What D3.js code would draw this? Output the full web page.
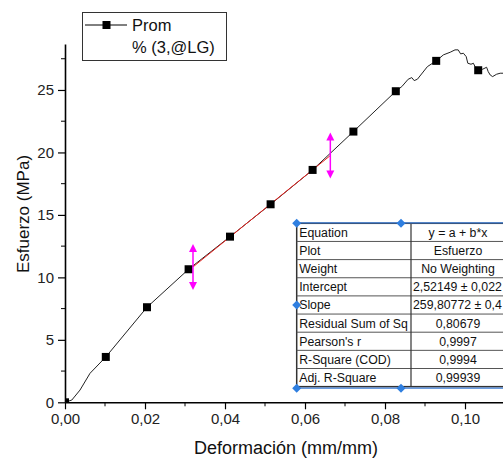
<!DOCTYPE html>
<html>
<head>
<meta charset="utf-8">
<script src="https://cdn.jsdelivr.net/npm/d3@7"></script>
<style>
  body { margin: 0; background: #fff; }
  svg { display: block; font-family: "Liberation Sans", Arial, sans-serif; }
</style>
</head>
<body>
<svg></svg>
<script>
const width = 503;
const height = 458;

// measured curve (strain mm/mm, stress MPa)
const curveStrain = [0, 0.0017, 0.00375, 0.00625, 0.0102, 0.0205, 0.0309, 0.04125, 0.0514, 0.0619, 0.0721, 0.0827,
  0.0842, 0.0858, 0.0867, 0.0873, 0.0881, 0.0906, 0.0928, 0.0946, 0.0963, 0.0975, 0.0983, 0.0989, 0.0996, 0.1003,
  0.1007, 0.1015, 0.1021, 0.1025, 0.1033, 0.1044, 0.1054, 0.1058, 0.1063, 0.1069, 0.1079, 0.1088, 0.1100];
const curveStress = [0, 0.18, 0.98, 2.32, 3.63, 7.61, 10.65, 13.26, 15.85, 18.6, 21.67, 24.9,
  25.27, 25.86, 25.99, 25.75, 25.86, 26.87, 27.33, 27.81, 28.02, 28.21, 28.21, 27.89, 27.94, 27.67,
  27.14, 27.06, 27.14, 26.87, 26.58, 26.66, 26.82, 26.47, 26.2, 26.07, 26.26, 26.34, 26.34];

// symbols shown on the curve
const markerStrain = [0, 0.0102, 0.0205, 0.0309, 0.04125, 0.0514, 0.0619, 0.0721, 0.0827, 0.0928, 0.1033];
const markerStress = [0, 3.63, 7.61, 10.65, 13.26, 15.85, 18.6, 21.67, 24.9, 27.33, 26.58];

// linear fit
const fitIntercept = 2.52149;
const fitSlope = 259.80772;
const fitRange = [0.032, 0.06633];

const xTicks = [0, 0.02, 0.04, 0.06, 0.08, 0.10];
const xMinor = [0.01, 0.03, 0.05, 0.07, 0.09];
const yTicks = [0, 5, 10, 15, 20, 25];
const yMinor = [2.5, 7.5, 12.5, 17.5, 22.5, 27.5];

const tableLabels = ['Equation', 'Plot', 'Weight', 'Intercept', 'Slope', 'Residual Sum of Sq', "Pearson's r", 'R-Square (COD)', 'Adj. R-Square'];
const tableValues = ['y = a + b*x', 'Esfuerzo', 'No Weighting', '2,52149 ± 0,022', '259,80772 ± 0,4', '0,80679', '0,9997', '0,9994', '0,99939'];

const legendLines = ['Prom', '% (3,@LG)'];

const locale = d3.formatLocale({decimal: ',', thousands: '.', grouping: [3], currency: ['', '']});

const svg = d3.select('svg').attr('width', width).attr('height', height);

const x = d3.scaleLinear().domain([0, 0.1095]).range([65, 503]);
const y = d3.scaleLinear().domain([0, 28.68]).range([402.3, 44]);

svg.append('defs').append('clipPath').attr('id', 'plotclip')
  .append('rect').attr('x', 65).attr('y', 44).attr('width', 440).attr('height', 358.3);

const plot = svg.append('g').attr('clip-path', 'url(#plotclip)');

const pts = curveStrain.map((s, i) => [s, curveStress[i]]);
const line = d3.line().x(d => x(d[0])).y(d => y(d[1]));

plot.append('path').datum(pts)
  .attr('d', line)
  .attr('fill', 'none')
  .attr('stroke', '#222')
  .attr('stroke-width', 1);

// fit line
plot.append('path')
  .datum(fitRange.map(s => [s, fitIntercept + fitSlope * s]))
  .attr('d', line)
  .attr('fill', 'none')
  .attr('stroke', '#e8201c')
  .attr('stroke-width', 1);

// markers
plot.selectAll('rect.mk')
  .data(markerStrain.map((s, i) => [s, markerStress[i]]))
  .enter().append('rect')
  .attr('class', 'mk')
  .attr('x', d => x(d[0]) - 4)
  .attr('y', d => y(d[1]) - 4)
  .attr('width', 8).attr('height', 8)
  .attr('fill', '#000');

// range arrows at fit limits
fitRange.forEach(s => {
  const cx = x(s), cy = y(fitIntercept + fitSlope * s);
  const g = svg.append('g').attr('fill', '#ff00ff').attr('stroke', '#ff00ff');
  g.append('line').attr('x1', cx).attr('x2', cx).attr('y1', cy - 20).attr('y2', cy + 20).attr('stroke-width', 1.5);
  g.append('path').attr('stroke', 'none')
    .attr('d', `M${cx - 4},${cy - 15}L${cx + 4},${cy - 15}L${cx},${cy - 23}Z`);
  g.append('path').attr('stroke', 'none')
    .attr('d', `M${cx - 4},${cy + 15}L${cx + 4},${cy + 15}L${cx},${cy + 23}Z`);
});

// axes
const fmt = locale.format('.2f');
const xAxis = svg.append('g').attr('transform', 'translate(0,402.3)')
  .call(d3.axisBottom(x).tickValues(xTicks).tickFormat(fmt).tickSize(7).tickSizeOuter(0).tickPadding(4));
xMinor.forEach(v => xAxis.append('line').attr('x1', x(v)).attr('x2', x(v)).attr('y1', 0).attr('y2', 4).attr('stroke', '#000'));

const yAxis = svg.append('g').attr('transform', 'translate(65,0)')
  .call(d3.axisLeft(y).tickValues(yTicks).tickFormat(d3.format('d')).tickSize(7).tickSizeOuter(0).tickPadding(4));
yMinor.forEach(v => yAxis.append('line').attr('x1', 0).attr('x2', -4).attr('y1', y(v)).attr('y2', y(v)).attr('stroke', '#000'));

[xAxis, yAxis].forEach(a => {
  a.select('.domain').attr('stroke', '#000').attr('stroke-width', 1.6);
  a.selectAll('.tick line').attr('stroke', '#000').attr('stroke-width', 1.2);
  a.selectAll('text').attr('font-size', 15).attr('fill', '#222').attr('font-family', '"Liberation Sans", Arial, sans-serif');
});

svg.append('text')
  .attr('x', 286).attr('y', 454)
  .attr('text-anchor', 'middle')
  .attr('font-size', 18).attr('fill', '#111')
  .text('Deformación (mm/mm)');

svg.append('text')
  .attr('transform', 'translate(29,214) rotate(-90)')
  .attr('text-anchor', 'middle')
  .attr('font-size', 17).attr('fill', '#111')
  .text('Esfuerzo (MPa)');

// legend
const leg = svg.append('g');
leg.append('rect').attr('x', 82.5).attr('y', 12.5).attr('width', 144).attr('height', 48)
  .attr('fill', '#fff').attr('stroke', '#333').attr('stroke-width', 1);
leg.append('line').attr('x1', 85).attr('x2', 127).attr('y1', 25).attr('y2', 25).attr('stroke', '#000');
leg.append('rect').attr('x', 102.5).attr('y', 21).attr('width', 8).attr('height', 8).attr('fill', '#000');
leg.selectAll('text.lg').data(legendLines).enter().append('text')
  .attr('x', 132).attr('y', (d, i) => 30.5 + i * 22.5)
  .attr('font-size', 16.5).attr('fill', '#111')
  .text(d => d);

// fit results table
const tx = 296.7, ty = 223.3, rowH = 18.15, col1 = 411, tRight = 505;
const tbl = svg.append('g');
tbl.append('rect').attr('x', tx).attr('y', ty).attr('width', tRight - tx).attr('height', rowH * 9)
  .attr('fill', '#fff').attr('stroke', '#333').attr('stroke-width', 1.5);
d3.range(1, 9).forEach(i => tbl.append('line')
  .attr('x1', tx).attr('x2', tRight).attr('y1', ty + i * rowH).attr('y2', ty + i * rowH)
  .attr('stroke', '#555').attr('stroke-width', 1));
tbl.append('line').attr('x1', col1).attr('x2', col1).attr('y1', ty).attr('y2', ty + rowH * 9)
  .attr('stroke', '#333').attr('stroke-width', 1.2);
tbl.selectAll('text.lab').data(tableLabels).enter().append('text')
  .attr('x', tx + 2.5).attr('y', (d, i) => ty + i * rowH + 13.5)
  .attr('font-size', 12.3).attr('fill', '#111').text(d => d);
tbl.selectAll('text.val').data(tableValues).enter().append('text')
  .attr('x', (d, i) => (i === 3 || i === 4) ? col1 + 2 : 458)
  .attr('text-anchor', (d, i) => (i === 3 || i === 4) ? 'start' : 'middle')
  .attr('y', (d, i) => ty + i * rowH + 13.5)
  .attr('font-size', 12.3).attr('fill', '#111').text(d => d);

// selection outline and handles
tbl.append('line').attr('x1', tx).attr('x2', tRight).attr('y1', ty - 0.5).attr('y2', ty - 0.5)
  .attr('stroke', '#3a7bd5').attr('stroke-width', 1.2);
tbl.append('line').attr('x1', tx).attr('x2', tRight).attr('y1', ty + rowH * 9 + 1.5).attr('y2', ty + rowH * 9 + 1.5)
  .attr('stroke', '#3a7bd5').attr('stroke-width', 1.2);
const handles = [[tx, ty], [401, ty], [tx, ty + rowH * 4.5], [tx, ty + rowH * 9 + 1.5], [401, ty + rowH * 9 + 1.5]];
tbl.selectAll('path.h').data(handles).enter().append('path')
  .attr('d', d => `M${d[0]},${d[1] - 4.5}L${d[0] + 4.5},${d[1]}L${d[0]},${d[1] + 4.5}L${d[0] - 4.5},${d[1]}Z`)
  .attr('fill', '#2f7fe0');
</script>
</body>
</html>
